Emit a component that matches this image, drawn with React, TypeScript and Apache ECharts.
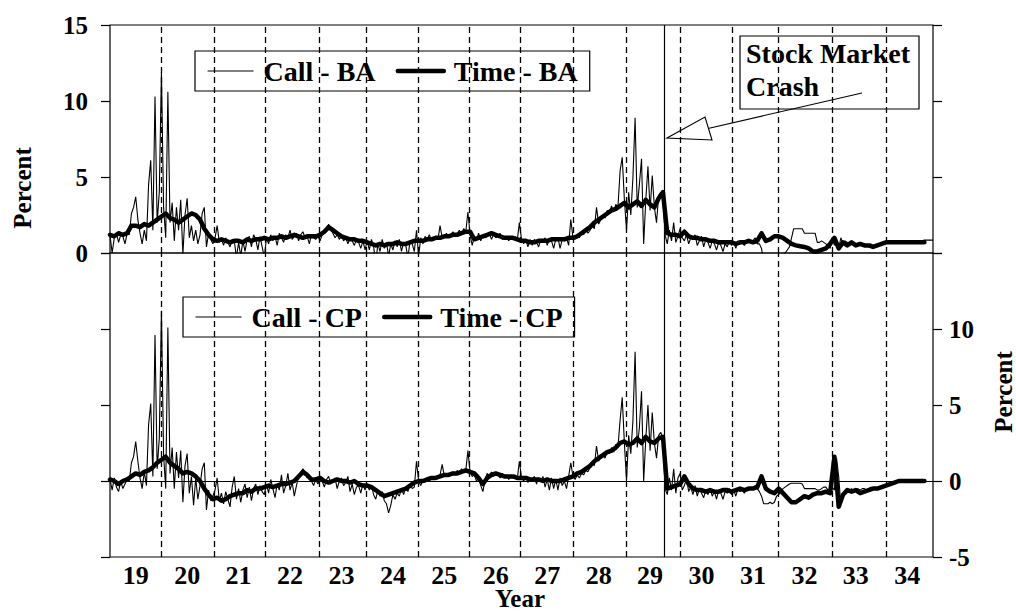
import React, { useEffect, useRef } from "react";
import * as echarts from "echarts";

// ---- axis / time frame ----
const START_YEAR = 1919;
const END_YEAR = 1935;
const CALL_PER_YEAR = 24; // semi-monthly observations
const TIME_PER_YEAR = 12; // monthly observations
const YEAR_LABELS = ["19", "20", "21", "22", "23", "24", "25", "26", "27", "28", "29", "30", "31", "32", "33", "34"];
const TOP_Y = { min: 0, max: 15, interval: 5 };
const BOTTOM_Y = { min: -5, max: 15, interval: 5 };
const DASHED_YEARS = [1920.0, 1921.02, 1922.01, 1923.06, 1923.99, 1924.99, 1925.98, 1926.98, 1928.01, 1929.04, 1930.08, 1931.1, 1931.99, 1933.04, 1934.09];
const CRASH_YEAR = 1929.77;

// ---- series values (percent) ----
const callBA = [
  // 1919
  1.2, 0.0, 1.0, 1.3, 0.7, 1.2, 1.1, 0.6, 1.3, 1.2, 2.6, 3.0, 3.7, 2.2, 1.3, 0.6, 1.5, 0.8, 4.5, 6.1, 1.5, 10.3, 2.0, 4.0,
  // 1920
  11.9, 3.0, 1.0, 10.6, 2.0, 3.3, 0.8, 3.0, 1.5, 3.5, -0.1, 2.5, 3.6, 1.0, 1.8, 0.8, 1.5, 0.6, 1.2, 2.6, 3.0, 0.4, 1.3, 0.9,
  // 1921
  0.6, 1.0, 1.8, 0.7, 0.9, 0.5, 1.0, 0.7, 0.4, 0.9, 0.8, -0.3, 0.7, -0.2, 0.8, 0.1, 0.9, 1.1, 0.4, 1.2, 0.9, 0.2, 1.1, 0.4,
  // 1922
  -0.3, 1.0, 0.6, 1.2, 0.8, 1.1, 0.5, 1.3, 1.0, 0.7, 1.2, 1.0, 1.5, 0.9, 1.1, 1.3, 0.8, 1.2, 1.4, 1.0, 1.1, 0.6, 1.2, 1.0,
  // 1923
  0.9, 1.1, 0.8, 1.2, 1.4, 1.5, 1.9, 1.6, 1.3, 1.0, 1.2, 0.9, 1.1, 0.8, 1.0, 0.6, 1.0, 0.8, 0.5, 0.9, 0.7, 0.3, 0.8, 0.2,
  // 1924
  0.8, 0.2, 0.9, 0.4, -0.6, 0.6, 0.1, 0.9, 0.3, 0.7, -0.2, 0.6, 0.2, 0.8, 0.4, 0.9, 0.1, 0.7, 0.5, -0.3, 0.8, 0.6, 0.1, 1.5,
  // 1925
  -0.2, 1.0, 0.6, 1.1, 0.9, 1.2, 0.8, 1.0, 1.1, 0.9, 1.8, 1.0, 1.1, 1.3, 1.0, 1.2, 1.4, 1.1, 1.3, 1.5, 1.2, 1.6, 1.4, 2.7,
  // 1926
  1.2, 0.5, 1.1, 0.9, 1.3, 0.8, 1.2, 1.0, 1.1, 1.3, 0.9, 1.2, 1.0, 1.1, 1.3, 0.9, 1.0, 1.1, 0.8, 1.0, 0.9, 1.1, 0.8, 2.0,
  // 1927
  0.9, 0.6, 0.9, 0.4, 0.9, 0.5, 0.9, 0.7, 0.4, 0.9, 0.8, 1.0, 0.5, 0.9, 0.8, 0.3, 0.9, 1.0, 0.3, 0.9, 0.8, 1.0, 0.5, 2.2,
  // 1928
  1.0, 0.9, 1.2, 1.0, 1.4, 1.2, 1.6, 1.3, 1.5, 1.8, 1.6, 3.0, 1.9, 2.2, 2.5, 2.3, 2.8, 2.6, 3.1, 2.7, 3.2, 3.0, 5.4, 6.3,
  // 1929
  3.5, 1.5, 4.0, 2.5, 5.0, 8.9, 3.0, 4.5, 6.2, 0.6, 3.5, 5.7, 2.8, 5.1, 3.0, 2.0, 3.8, 4.0, 3.6, 1.2, 0.6, 1.5, 0.8, 2.0,
  // 1930
  0.7, 1.1, 1.6, 1.0, 0.8, 1.2, 0.6, 1.0, 0.9, 1.2, 0.5, 0.8, 1.1, 0.4, 0.9, 0.7, 0.3, 0.8, 0.6, 0.2, 0.7, 0.5, 0.1, 0.6,
  // 1931
  0.4, 0.8, 0.5, 0.7, 0.3, 0.8, 0.6, 0.7, 0.5, 0.8, 0.7, 0.7, 0.8, 1.0, 0.6, 0.6, 0.3, -0.7, -0.8, -0.8, -0.8, -0.7, -0.8, -0.3,
  // 1932
  -0.2, -0.2, -0.1, 0.0, 0.2, 0.4, 1.0, 1.6, 1.6, 1.6, 1.6, 1.6, 1.3, 1.3, 1.3, 1.3, 1.3, 1.3, 0.7, 0.7, 0.8, 0.7, 0.6, 0.5,
  // 1933
  0.3, 1.0, 0.5, 0.9, 0.3, 1.0, 0.6, 0.8, 0.7, 0.6, 0.7, 0.5, 0.6, 0.5, 0.7, 0.5, 0.6, 0.5, 0.5, 0.6, 0.5, 0.5, 0.6, 0.6,
  // 1934
  0.6, 0.7, 0.7, 0.7, 0.7, 0.7, 0.7, 0.7, 0.7, 0.7, 0.7, 0.7, 0.7, 0.7, 0.7, 0.7, 0.7, 0.7, 0.7, 0.8, 0.85, 0.85, 0.85, 0.85, 0.85,
];

const timeBA = [
  // 1919
  1.2, 1.1, 1.3, 1.2, 1.3, 1.8, 1.8, 1.7, 1.9, 1.8, 2.0, 2.2,
  // 1920
  2.4, 2.6, 2.3, 2.2, 2.0, 2.2, 2.4, 2.6, 2.5, 2.2, 1.6, 1.2,
  // 1921
  0.9, 0.8, 0.9, 0.8, 0.7, 0.8, 0.8, 0.7, 0.9, 0.8, 0.9, 0.9,
  // 1922
  1.0, 0.9, 1.0, 1.0, 1.1, 1.0, 1.1, 1.2, 1.1, 1.0, 1.1, 1.1,
  // 1923
  1.1, 1.2, 1.4, 1.7, 1.5, 1.3, 1.1, 1.0, 0.9, 0.9, 0.8, 0.8,
  // 1924
  0.7, 0.6, 0.5, 0.6, 0.5, 0.6, 0.6, 0.7, 0.6, 0.6, 0.7, 0.8,
  // 1925
  0.8, 0.8, 0.9, 0.9, 1.0, 1.0, 1.1, 1.1, 1.2, 1.2, 1.3, 1.4,
  // 1926
  1.4, 0.9, 1.0, 1.1, 1.2, 1.3, 1.2, 1.1, 1.0, 1.0, 1.0, 0.9,
  // 1927
  0.8, 0.8, 0.7, 0.7, 0.8, 0.8, 0.8, 0.9, 0.9, 0.9, 0.9, 1.0,
  // 1928
  1.0, 1.1, 1.3, 1.5, 1.7, 2.0, 2.2, 2.4, 2.6, 2.8, 2.9, 3.1,
  // 1929
  3.3, 3.0, 3.2, 3.4, 3.1, 3.5, 3.2, 3.0, 3.6, 4.0, 1.3, 1.2,
  // 1930
  1.2, 1.1, 1.4, 1.1, 1.0, 1.0, 0.9, 0.9, 0.8, 0.8, 0.7, 0.7,
  // 1931
  0.7, 0.7, 0.6, 0.7, 0.7, 0.8, 0.7, 0.8, 1.3, 0.8, 0.9, 1.1,
  // 1932
  1.1, 1.0, 0.8, 0.6, 0.5, 0.45, 0.4, 0.3, 0.1, 0.1, 0.2, 0.3,
  // 1933
  0.6, 1.0, 0.3, 0.7, 0.5, 0.7, 0.5, 0.6, 0.5, 0.5, 0.4, 0.5,
  // 1934
  0.6, 0.7, 0.7, 0.7, 0.7, 0.7, 0.7, 0.7, 0.7, 0.7, 0.7,
];

const callCP = [
  // 1919
  0.1, -0.6, 0.2, -0.4, -0.7, 0.0, -0.5, -0.2, 0.1, 0.0, 1.2, 1.6, 2.6, 1.3, 0.2, -0.5, 0.6, -0.3, 3.7, 5.1, 0.3, 9.6, 0.8, 2.8,
  // 1920
  11.2, 1.7, -0.5, 10.1, 0.5, 2.2, -0.5, 1.9, 0.2, 2.0, -1.4, 1.0, 1.8, -0.8, 0.3, -1.6, 0.2, -1.2, -0.3, 0.8, 1.2, -1.9, -0.6, -1.3,
  // 1921
  -1.0, -0.6, 0.2, -1.3, -0.8, -1.5, -0.7, -1.2, -1.7, -0.4, 0.3, -1.2, -0.5, -1.4, -0.6, -0.2, -1.1, -0.4, -1.3, -0.5, -0.2, -0.9, -0.3, -0.7,
  // 1922
  -0.9, -0.2, -0.8, 0.1, -0.5, -1.1, -0.2, -0.6, 0.4, -0.8, -0.3, 0.5, -0.6, -0.1, -1.0, -0.3, 0.3, 0.5, 0.8, 0.6, 0.2, 0.4, 0.0, -0.3,
  // 1923
  0.1, -0.2, 0.2, 0.0, -0.4, 0.1, 0.3, -0.2, 0.0, 0.2, -0.5, 0.0, 0.2, -0.3, -0.1, 0.3, -0.7, -0.2, -0.9, -0.4, -0.3, -0.8, -0.2, -0.6,
  // 1924
  -0.2, -0.6, -0.3, -0.9, -1.2, -0.6, -1.0, -0.7, -1.3, -1.5, -2.1, -1.6, -0.9, -1.2, -0.8, -1.0, -0.5, -0.9, -0.4, -0.7, -0.2, -0.5, -0.4, 1.3,
  // 1925
  0.0, -0.3, 0.1, -0.1, 0.2, 0.0, 0.2, 0.1, 0.3, 0.2, 0.4, 1.1, 0.3, 0.5, 0.3, 0.5, 0.6, 0.4, 0.7, 0.5, 0.8, 0.6, 0.7, 2.0,
  // 1926
  0.6, 0.3, 0.4, 0.0, 0.2, -0.3, -0.7, 0.1, 0.5, 0.3, 0.6, 0.3, 0.5, 0.4, 0.2, 0.5, 0.3, 0.4, 0.1, 0.3, 0.2, 0.4, 0.1, 1.3,
  // 1927
  0.2, 0.0, 0.3, -0.1, 0.2, 0.1, 0.3, -0.2, 0.2, 0.0, 0.3, -0.4, 0.1, -0.6, 0.2, -0.5, 0.1, -0.6, 0.2, -0.3, 0.0, -0.5, 0.3, 1.2,
  // 1928
  0.3, 0.1, 0.4, 0.2, 0.5, 0.4, 0.7, 0.6, 0.9, 1.2, 1.0, 2.3, 1.3, 1.6, 1.8, 1.5, 2.0, 1.8, 2.2, 1.9, 2.4, 2.2, 4.0, 5.5,
  // 1929
  2.5, 0.0, 3.0, 1.8, 4.0, 8.5, 2.2, 3.5, 5.9, 0.0, 2.8, 5.0, 2.0, 4.5, 2.5, 1.5, 3.0, 3.2, 2.8, -0.5, -0.9, 0.2, -0.6, 0.8,
  // 1930
  -0.8, 0.2, 0.5, -0.6, -0.3, 0.2, -0.7, -0.4, -0.9, -0.3, -1.0, -0.5, -0.8, -1.1, -0.6, -0.9, -0.5, -1.0, -0.7, -1.2, -0.6, -0.8, -1.2, -0.7,
  // 1931
  -0.8, -0.5, -0.9, -0.6, -1.0, -0.5, -0.7, -0.6, -0.8, -0.5, -0.6, -0.4, -0.5, -0.3, -0.5, -0.7, -1.0, -1.5, -1.5, -1.5, -1.4, -1.5, -1.4, -1.0,
  // 1932
  -0.9, -0.7, -0.5, -0.4, -0.3, -0.2, -0.15, -0.15, -0.15, -0.15, -0.15, -0.2, -0.5, -0.5, -0.5, -0.5, -0.5, -0.5, -0.6, -0.6, -0.5, -0.4, -0.4, -0.6,
  // 1933
  -0.5, -0.4, -0.6, 1.5, 0.3, -1.6, -1.0, -0.8, -0.6, -0.7, -0.5, -0.7, -0.6, -0.5, -0.6, -0.5, -0.5, -0.6, -0.5, -0.4, -0.5, -0.4, -0.5, -0.4,
  // 1934
  -0.4, -0.3, -0.3, -0.2, -0.2, -0.1, -0.1, 0.0, 0.0, 0.0, 0.0, 0.0, 0.0, 0.0, 0.0, 0.0, 0.0, 0.0, 0.0, 0.0,
];

const timeCP = [
  // 1919
  0.1, 0.0, -0.2, 0.0, 0.1, 0.3, 0.5, 0.4, 0.6, 0.7, 0.9, 1.2,
  // 1920
  1.4, 1.6, 1.2, 1.0, 0.8, 0.5, 0.6, 0.5, 0.3, 0.0, -0.5, -0.9,
  // 1921
  -1.2, -1.1, -1.3, -1.2, -1.0, -0.9, -0.8, -0.8, -0.6, -0.7, -0.5, -0.5,
  // 1922
  -0.4, -0.3, -0.4, -0.3, -0.2, -0.2, -0.1, 0.0, 0.3, 0.6, 0.4, 0.1,
  // 1923
  0.1, 0.2, 0.0, -0.1, 0.0, 0.1, 0.0, 0.0, -0.1, 0.0, -0.2, -0.3,
  // 1924
  -0.3, -0.4, -0.6, -0.8, -1.0, -0.9, -0.8, -0.7, -0.6, -0.5, -0.3, -0.1,
  // 1925
  0.0, 0.0, 0.1, 0.2, 0.2, 0.3, 0.4, 0.4, 0.5, 0.5, 0.6, 0.7,
  // 1926
  0.6, 0.5, 0.2, -0.2, 0.2, 0.4, 0.5, 0.4, 0.3, 0.3, 0.3, 0.2,
  // 1927
  0.2, 0.2, 0.1, 0.1, 0.1, 0.0, 0.1, 0.0, 0.0, 0.0, 0.1, 0.2,
  // 1928
  0.3, 0.5, 0.6, 0.8, 1.0, 1.3, 1.5, 1.7, 1.9, 2.0, 2.2, 2.5,
  // 1929
  2.6, 2.4, 2.5, 2.8, 2.5, 2.9, 2.6, 2.5, 2.8, 2.9, -0.5, -0.4,
  // 1930
  -0.3, -0.2, 0.3, -0.2, -0.5, -0.6, -0.6, -0.7, -0.6, -0.7, -0.7, -0.6,
  // 1931
  -0.6, -0.7, -0.6, -0.5, -0.6, -0.5, -0.5, -0.4, 0.3, -0.5, -0.7, -0.8,
  // 1932
  -0.5, -0.8, -1.1, -1.4, -1.4, -1.2, -1.0, -1.1, -0.9, -0.8, -0.8, -0.7,
  // 1933
  -0.8, 1.6, -1.7, -0.9, -0.6, -0.7, -0.6, -0.8, -0.7, -0.6, -0.5, -0.5,
  // 1934
  -0.4, -0.3, -0.2, -0.1, 0.0, 0.0, 0.0, 0.0, 0.0, 0.0, 0.0,
];

// ---- styling ----
const FONT = "Liberation Serif";
const INK = "#000";
const THIN = 1.1;
const THICK = 4.5;

const toPoints = (values: number[], perYear: number) =>
  values.map((v, i) => [START_YEAR + i / perYear, v]);

const dashedMarks = () => ({
  silent: true,
  symbol: ["none", "none"],
  label: { show: false },
  lineStyle: { color: INK, type: [6, 4], width: 1.3 },
  data: [
    ...DASHED_YEARS.map((x) => ({ xAxis: x })),
    { xAxis: CRASH_YEAR, lineStyle: { type: "solid", width: 1.2, color: INK } },
  ],
});

const tickFont = { fontFamily: FONT, fontWeight: "bold" as const, fontSize: 25, color: INK };

export default function App() {
  const ref = useRef<HTMLDivElement>(null);

  useEffect(() => {
    document.body.style.margin = "0";
    if (!ref.current) return;
    const chart = echarts.init(ref.current, undefined, { renderer: "svg" });

    const yCommon = {
      type: "value" as const,
      axisLine: { show: false },
      axisTick: { show: true, inside: false, length: 9, lineStyle: { color: INK, width: 1.2 } },
      splitLine: { show: false },
    };

    const hiddenSymbol = { color: "transparent", borderColor: "transparent", borderWidth: 0, opacity: 0 };

    const legendCommon = {
      orient: "horizontal" as const,
      selectedMode: false,
      itemWidth: 46,
      itemHeight: 20,
      itemGap: 20,
      padding: [6, 12, 6, 12],
      borderColor: INK,
      borderWidth: 1.2,
      borderRadius: 0,
      backgroundColor: "#fff",
      itemStyle: hiddenSymbol,
      textStyle: { fontFamily: FONT, fontWeight: "bold" as const, fontSize: 28, color: INK, padding: [0, 0, 0, 5] },
    };

    const legendItems = (thinName: string, thickName: string) => [
      { name: thinName, itemStyle: hiddenSymbol, lineStyle: { width: THIN, color: INK } },
      { name: thickName, itemStyle: hiddenSymbol, lineStyle: { width: THICK, color: INK } },
    ];

    chart.setOption({
      animation: false,
      backgroundColor: "#fff",
      grid: [
        { left: 110, top: 25, width: 823, height: 228, show: true, borderColor: INK, borderWidth: 1.2, backgroundColor: "transparent" },
        { left: 110, top: 253, width: 823, height: 304, show: true, borderColor: INK, borderWidth: 1.2, backgroundColor: "transparent" },
      ],
      xAxis: [
        { type: "value", gridIndex: 0, min: START_YEAR, max: END_YEAR, show: false },
        { type: "value", gridIndex: 1, min: START_YEAR, max: END_YEAR, show: false },
        {
          type: "category",
          gridIndex: 1,
          position: "bottom",
          data: YEAR_LABELS,
          boundaryGap: true,
          axisLine: { show: false },
          axisTick: { show: false },
          splitLine: { show: false },
          axisLabel: { ...tickFont, fontSize: 26, lineHeight: 22, margin: 7, interval: 0 },
        },
      ],
      yAxis: [
        { ...yCommon, gridIndex: 0, position: "left", ...TOP_Y, axisLabel: { ...tickFont, margin: 22 } },
        { ...yCommon, gridIndex: 0, position: "right", ...TOP_Y, axisLabel: { show: false } },
        { ...yCommon, gridIndex: 1, position: "left", ...BOTTOM_Y, axisLabel: { show: false } },
        {
          ...yCommon,
          gridIndex: 1,
          position: "right",
          ...BOTTOM_Y,
          axisLabel: { ...tickFont, margin: 16, formatter: (v: number) => (v === BOTTOM_Y.max ? "" : String(v)) },
        },
      ],
      legend: [
        { ...legendCommon, left: 195, top: 51, data: legendItems("Call - BA", "Time - BA") },
        { ...legendCommon, left: 183, top: 297, data: legendItems("Call - CP", "Time - CP") },
      ],
      series: [
        {
          name: "Call - BA",
          type: "line",
          xAxisIndex: 0,
          yAxisIndex: 0,
          data: toPoints(callBA, CALL_PER_YEAR),
          showSymbol: false,
          symbol: "none",
          lineStyle: { color: INK, width: THIN },
          itemStyle: { color: INK },
          z: 3,
          markLine: dashedMarks(),
        },
        {
          name: "Time - BA",
          type: "line",
          xAxisIndex: 0,
          yAxisIndex: 0,
          data: toPoints(timeBA, TIME_PER_YEAR),
          showSymbol: false,
          symbol: "none",
          lineStyle: { color: INK, width: THICK, join: "round", cap: "round" },
          itemStyle: { color: INK },
          z: 4,
        },
        {
          name: "Call - CP",
          type: "line",
          xAxisIndex: 1,
          yAxisIndex: 2,
          data: toPoints(callCP, CALL_PER_YEAR),
          showSymbol: false,
          symbol: "none",
          lineStyle: { color: INK, width: THIN },
          itemStyle: { color: INK },
          z: 3,
          markLine: {
            ...dashedMarks(),
            data: [...dashedMarks().data, { yAxis: 0, lineStyle: { type: "solid", width: 1.2, color: INK } }],
          },
        },
        {
          name: "Time - CP",
          type: "line",
          xAxisIndex: 1,
          yAxisIndex: 2,
          data: toPoints(timeCP, TIME_PER_YEAR),
          showSymbol: false,
          symbol: "none",
          lineStyle: { color: INK, width: THICK, join: "round", cap: "round" },
          itemStyle: { color: INK },
          z: 4,
        },
      ],
      graphic: [
        {
          type: "group",
          z: 100,
          children: [
            {
              type: "rect",
              shape: { x: 740, y: 36, width: 179, height: 73 },
              style: { fill: "#fff", stroke: INK, lineWidth: 1.2 },
            },
            {
              type: "text",
              x: 746,
              y: 37,
              style: {
                text: "Stock Market\nCrash",
                font: `bold 28px "${FONT}"`,
                lineHeight: 33,
                fill: INK,
                align: "left",
                verticalAlign: "top",
              },
            },
            {
              type: "line",
              shape: { x1: 862, y1: 93, x2: 708, y2: 128.5 },
              style: { stroke: INK, lineWidth: 1.1 },
            },
            {
              type: "polygon",
              shape: { points: [[667, 138], [705, 117], [712, 140]] },
              style: { fill: "#fff", stroke: INK, lineWidth: 1.1 },
            },
          ],
        },
        {
          type: "text",
          x: 22,
          y: 188,
          rotation: Math.PI / 2,
          style: { text: "Percent", font: `bold 25px "${FONT}"`, fill: INK, align: "center", verticalAlign: "middle" },
        },
        {
          type: "text",
          x: 1003,
          y: 392,
          rotation: Math.PI / 2,
          style: { text: "Percent", font: `bold 25px "${FONT}"`, fill: INK, align: "center", verticalAlign: "middle" },
        },
        {
          type: "text",
          x: 520,
          y: 598,
          style: { text: "Year", font: `bold 25px "${FONT}"`, lineHeight: 22, fill: INK, align: "center", verticalAlign: "middle" },
        },
      ],
    });

    return () => chart.dispose();
  }, []);

  return <div ref={ref} style={{ width: 1016, height: 612 }} />;
}
